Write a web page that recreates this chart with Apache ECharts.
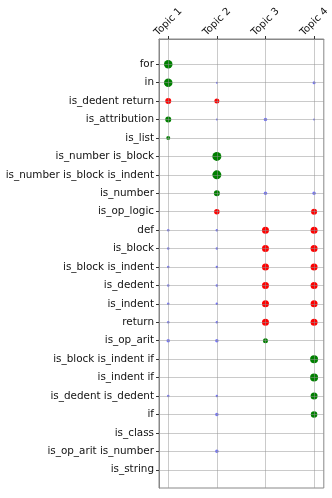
<!DOCTYPE html>
<html>
<head>
<meta charset="utf-8">
<script src="https://cdn.jsdelivr.net/npm/echarts@6/dist/echarts.min.js"></script>
<style>
  html, body { margin: 0; padding: 0; background: #fff; }
  #chart { width: 332px; height: 498px; }
</style>
</head>
<body>
<div id="chart"></div>
<script>
const topics = ['Topic 1', 'Topic 2', 'Topic 3', 'Topic 4'];
const categories = [
  'for', 'in', 'is_dedent return', 'is_attribution', 'is_list',
  'is_number is_block', 'is_number is_block is_indent', 'is_number',
  'is_op_logic', 'def', 'is_block', 'is_block is_indent', 'is_dedent',
  'is_indent', 'return', 'is_op_arit', 'is_block is_indent if',
  'is_indent if', 'is_dedent is_dedent', 'if', 'is_class',
  'is_op_arit is_number', 'is_string'
];

// [topic index, row index, marker size]
const greenPts = [
  [0, 0, 8.5], [0, 1, 8.5], [0, 3, 6], [0, 4, 4],
  [1, 5, 9], [1, 6, 9], [1, 7, 6],
  [2, 15, 5],
  [3, 16, 8], [3, 17, 8], [3, 18, 7], [3, 19, 6.5]
];
const redPts = [
  [0, 2, 6], [1, 2, 5],
  [1, 8, 5.5], [3, 8, 6],
  [2, 9, 7], [3, 9, 7], [2, 10, 7], [3, 10, 7],
  [2, 11, 7], [3, 11, 7], [2, 12, 7], [3, 12, 7],
  [2, 13, 7], [3, 13, 7], [2, 14, 7], [3, 14, 7]
];
const bluePts = [
  [1, 1, 2], [3, 1, 3],
  [1, 3, 2], [2, 3, 3.5], [3, 3, 2],
  [2, 7, 3.5], [3, 7, 3.5],
  [0, 9, 2.5], [1, 9, 2.5], [0, 10, 2.5], [1, 10, 2.5],
  [0, 11, 2.5], [1, 11, 2.5], [0, 12, 2.5], [1, 12, 2.5],
  [0, 13, 2.5], [1, 13, 2.5], [0, 14, 2.5], [1, 14, 2.5],
  [0, 15, 3.5], [1, 15, 3.5],
  [0, 18, 2.5], [1, 18, 2.5],
  [1, 19, 3.5],
  [1, 21, 3.5]
];

const chart = echarts.init(document.getElementById('chart'));

const font = 'DejaVu Sans';
const gridColor = 'rgba(150,150,150,0.5)';
const rowIdx = categories.map((c, i) => i);
const topicIdx = topics.map((t, i) => i);

function mkSeries(pts, color) {
  return {
    type: 'scatter',
    data: pts,
    symbolSize: d => d[2],
    itemStyle: { color: color, opacity: 1 },
    z: 2
  };
}

// grid lines drawn over the markers, like the original
const gridLines = {
  type: 'scatter',
  data: [],
  z: 4,
  silent: true,
  markLine: {
    silent: true,
    symbol: 'none',
    animation: false,
    label: { show: false },
    lineStyle: { color: gridColor, width: 1, type: 'solid' },
    data: rowIdx.map(i => ({ yAxis: i })).concat(topicIdx.map(j => ({ xAxis: j })))
  }
};

chart.setOption({
  animation: false,
  grid: {
    left: 159, right: 8, top: 39, bottom: 10,
    show: true, borderColor: '#888', borderWidth: 1
  },
  xAxis: {
    type: 'value',
    position: 'top',
    min: -0.19, max: 3.2,
    axisLine: { show: true, onZero: false, lineStyle: { color: '#888' } },
    axisTick: { show: true, length: 3, customValues: topicIdx, lineStyle: { color: '#333' } },
    splitLine: { show: false },
    axisLabel: {
      customValues: topicIdx,
      formatter: v => topics[v],
      rotate: -45,
      align: 'center',
      verticalAlign: 'middle',
      margin: 17,
      fontFamily: font, fontSize: 10, color: '#111'
    }
  },
  yAxis: {
    type: 'value',
    inverse: true,
    min: -1.37, max: 22.99,
    axisLine: { show: true, onZero: false, lineStyle: { color: '#888' } },
    axisTick: { show: true, length: 3, customValues: rowIdx, lineStyle: { color: '#333' } },
    splitLine: { show: false },
    axisLabel: {
      customValues: rowIdx,
      formatter: v => categories[v],
      margin: 5,
      fontFamily: font, fontSize: 10.4, color: '#111'
    }
  },
  series: [
    mkSeries(greenPts, '#008000'),
    mkSeries(redPts, '#ff0000'),
    mkSeries(bluePts, 'rgba(0,0,255,0.55)'),
    gridLines
  ]
});
</script>
</body>
</html>
